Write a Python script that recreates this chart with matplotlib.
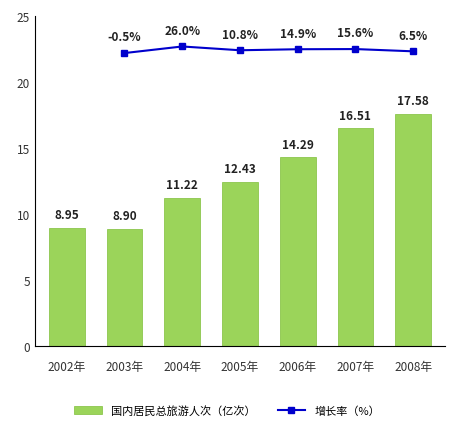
import numpy as np
import matplotlib
matplotlib.use("Agg")
from matplotlib import pyplot as plt

plt.rcParams['font.family'] = ['Noto Sans CJK SC', 'DejaVu Sans']

years = ['2002年', '2003年', '2004年', '2005年', '2006年', '2007年', '2008年']
trips = [8.95, 8.90, 11.22, 12.43, 14.29, 16.51, 17.58]
growth_years = years[1:]
growth = [-0.5, 26.0, 10.8, 14.9, 15.6, 6.5]
growth_labels = ['-0.5%', '26.0%', '10.8%', '14.9%', '15.6%', '6.5%']

fig = plt.figure(figsize=(4.54, 4.27), dpi=100)
ax = fig.add_axes([0.077, 0.187, 0.903, 0.773])
x = np.arange(len(years))
bars = ax.bar(x, trips, width=0.62, color='#9bd45a', edgecolor='#7fbf3a', linewidth=0.5,
              label='国内居民总旅游人次（亿次）')
for xi, v in zip(x, trips):
    ax.text(xi, v + 0.5, '%.2f' % v, ha='center', va='bottom', fontsize=8.5, fontweight='bold',
            color='#222222')
ax.set_ylim(0, 25)
ax.set_xlim(-0.55, 6.55)
ax.set_yticks([0, 5, 10, 15, 20, 25])
ax.set_xticks(x)
ax.set_xticklabels(years)
ax.tick_params(length=0, labelsize=8.5, colors='#333333')
ax.tick_params(axis='x', pad=10)
for s in ['top', 'right']:
    ax.spines[s].set_visible(False)

ax2 = ax.twinx()
ax2.set_ylim(-1177, 148)
ax2.axis('off')
gx = x[1:]
line, = ax2.plot(gx, growth, color='#0000cc', marker='s', markersize=5, linewidth=1.5,
                 label='增长率（%）')
for xi, v, t in zip(gx, growth, growth_labels):
    ax2.annotate(t, (xi, v), xytext=(0, 7), textcoords='offset points', ha='center',
                 va='bottom', fontsize=8.5, fontweight='bold', color='#222222')

fig.legend([bars, line], ['国内居民总旅游人次（亿次）', '增长率（%）'], loc='lower center',
           bbox_to_anchor=(0.5, 0.0), ncol=2, frameon=False, fontsize=8, handlelength=2.5)
fig.savefig('out.png', dpi=100)
